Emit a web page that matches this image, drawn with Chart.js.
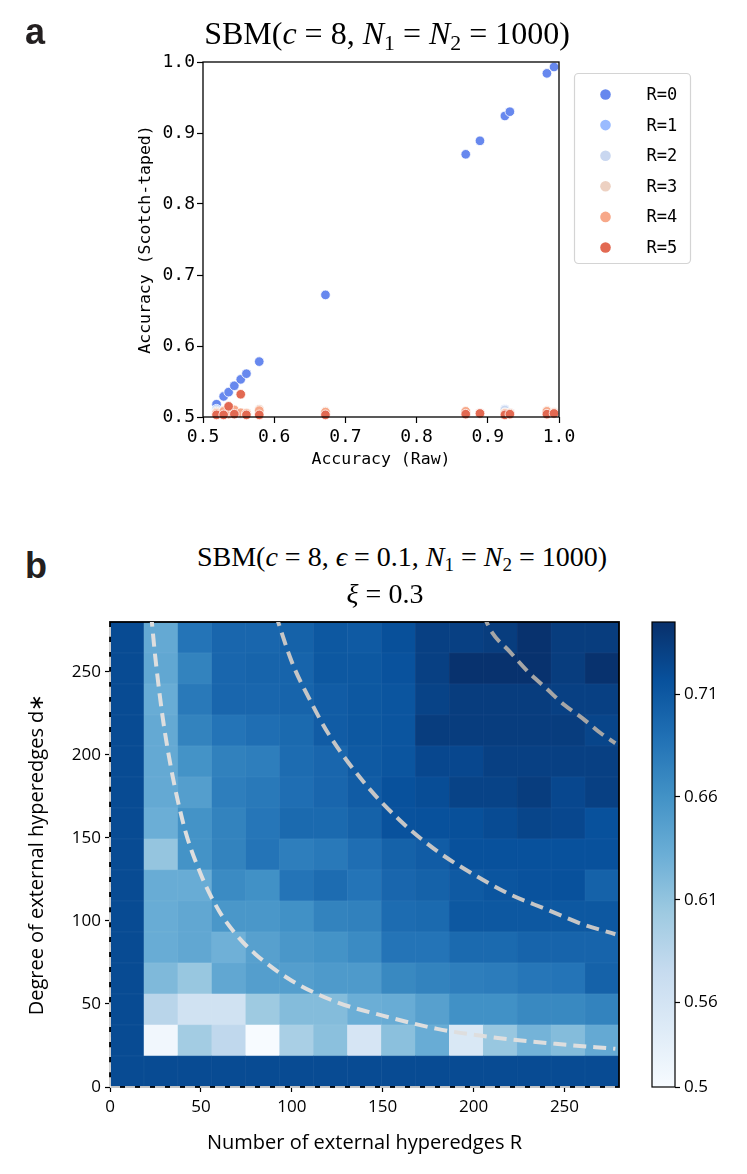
<!DOCTYPE html>
<html><head><meta charset="utf-8">
<script src="https://cdn.jsdelivr.net/npm/chart.js@4.4.1/dist/chart.umd.min.js"></script>
<style>
html,body{margin:0;padding:0;background:#fff;width:747px;height:1174px;overflow:hidden;position:relative}
canvas{position:absolute}
.lbl{position:absolute;font-family:"Liberation Sans",Arial,sans-serif;font-weight:bold;font-size:36px;line-height:40px;color:#231f20;z-index:3}
.ttl{position:absolute;font-family:"Liberation Serif","DejaVu Serif",serif;font-size:28px;line-height:32px;color:#000;white-space:nowrap;transform:translateX(-50%);z-index:3}
.ttl sub{font-size:0.68em;vertical-align:-0.28em;line-height:0}
</style></head><body>
<div class="lbl" style="left:25px;top:12px">a</div>
<div class="lbl" style="left:25px;top:546px">b</div>
<div class="ttl" style="left:387px;top:15px;font-size:32px;line-height:36px">SBM(<i>c</i> = 8, <i>N</i><sub>1</sub> = <i>N</i><sub>2</sub> = 1000)</div>
<div class="ttl" style="left:402px;top:541px">SBM(<i>c</i> = 8, <i>ϵ</i> = 0.1, <i>N</i><sub>1</sub> = <i>N</i><sub>2</sub> = 1000)</div>
<div class="ttl" style="left:385px;top:578px"><i>ξ</i> = 0.3</div>
<canvas id="c1" width="747" height="480" style="left:0;top:0"></canvas>
<canvas id="c2" width="747" height="574" style="left:0;top:600px"></canvas>
<canvas id="c3" width="117" height="574" style="left:630px;top:600px"></canvas>
<script>
// ---------------- Panel a data ----------------
const rawAccuracy = [0.519,0.529,0.536,0.544,0.553,0.561,0.579,0.672,0.869,0.889,0.924,0.931,0.983,0.993];
const tapedR0 = [0.518,0.529,0.535,0.544,0.553,0.561,0.578,0.672,0.870,0.889,0.924,0.930,0.984,0.993];
const tapedR1 = [0.511,0.506,0.505,0.507,0.504,0.505,0.509,0.506,0.505,0.504,0.511,0.506,0.507,0.506];
const tapedR2 = [0.509,0.507,0.506,0.505,0.506,0.504,0.510,0.507,0.507,0.505,0.510,0.505,0.508,0.505];
const tapedR3 = [0.507,0.509,0.505,0.506,0.505,0.506,0.511,0.508,0.508,0.506,0.506,0.506,0.509,0.507];
const tapedR4 = [0.505,0.508,0.504,0.510,0.506,0.505,0.509,0.507,0.508,0.505,0.505,0.505,0.508,0.506];
const tapedR5 = [0.503,0.503,0.515,0.504,0.532,0.503,0.503,0.503,0.504,0.505,0.503,0.504,0.504,0.505];
const seriesLabels = ['R=0','R=1','R=2','R=3','R=4','R=5'];
const seriesColors = ['#6788ee','#9abbff','#c9d7f0','#edd1c2','#f7a889','#e26952'];
const accTicksA = [0.5,0.6,0.7,0.8,0.9,1.0];

// ---------------- Panel b data ----------------
const binEdges = [0,18.67,37.33,56,74.67,93.33,112,130.67,149.33,168,186.67,205.33,224,242.67,261.33,280];
// accuracy per cell: row index = d bin (bottom to top), column = R bin (left to right)
const accRows = [
 [0.722,0.722,0.722,0.722,0.722,0.722,0.722,0.722,0.722,0.722,0.722,0.722,0.722,0.722,0.722],
 [0.722,0.526,0.600,0.580,0.519,0.596,0.614,0.557,0.614,0.634,0.553,0.607,0.627,0.618,0.637],
 [0.722,0.585,0.564,0.564,0.604,0.618,0.618,0.632,0.634,0.646,0.661,0.661,0.668,0.668,0.673],
 [0.722,0.621,0.607,0.639,0.648,0.648,0.652,0.652,0.668,0.673,0.677,0.679,0.684,0.686,0.702],
 [0.722,0.634,0.639,0.630,0.646,0.655,0.659,0.666,0.686,0.686,0.695,0.695,0.700,0.700,0.700],
 [0.722,0.634,0.639,0.655,0.655,0.661,0.673,0.675,0.693,0.695,0.711,0.711,0.711,0.711,0.711],
 [0.722,0.634,0.634,0.666,0.661,0.686,0.693,0.686,0.698,0.702,0.709,0.713,0.716,0.717,0.702],
 [0.722,0.609,0.659,0.673,0.686,0.677,0.682,0.691,0.702,0.707,0.717,0.717,0.717,0.717,0.717],
 [0.722,0.632,0.659,0.673,0.684,0.695,0.695,0.702,0.716,0.717,0.718,0.722,0.727,0.725,0.717],
 [0.722,0.637,0.648,0.677,0.682,0.691,0.698,0.707,0.717,0.720,0.729,0.729,0.734,0.725,0.731],
 [0.722,0.637,0.659,0.675,0.677,0.693,0.698,0.709,0.713,0.725,0.725,0.731,0.731,0.731,0.731],
 [0.722,0.637,0.673,0.686,0.691,0.695,0.707,0.711,0.713,0.734,0.734,0.734,0.734,0.734,0.727],
 [0.722,0.634,0.682,0.698,0.698,0.700,0.707,0.711,0.713,0.729,0.734,0.734,0.734,0.731,0.731],
 [0.722,0.639,0.673,0.698,0.700,0.700,0.711,0.711,0.716,0.731,0.743,0.743,0.743,0.734,0.743],
 [0.722,0.637,0.686,0.698,0.698,0.702,0.711,0.709,0.718,0.731,0.731,0.734,0.743,0.734,0.734]
];
// dashed guide curves, points [R, d]
const curveInner = [[22.6,285],[25,258],[30,215],[40,160],[50,128],[60,106],[70,91],[80,80],[100,64],[125,51],[150,43],[180,35],[210,30],[245,26],[278,23]];
const curveMiddle = [[91,285],[100,256],[110,233],[120,213],[140,183],[160,160],[180,142],[200,128],[220,116],[240,107],[260,98],[278,92]];
const curveOuter = [[205,285],[210,274],[220,262],[230,250],[240,240],[250,230],[260,222],[270,213],[278,207]];
const zeroLineR = [[0,0],[0,280]];
const zeroLineD = [[0,0],[280,0]];
const heatTicks = [0,50,100,150,200,250];
const cbMin = 0.519, cbMax = 0.745;
const cbTickValues = [0.519,0.56,0.61,0.66,0.71];
const cbTickLabels = ['0.5','0.56','0.61','0.66','0.71'];

// ---------------- helpers ----------------
const blueStops = [[247,251,255],[222,235,247],[198,219,239],[158,202,225],[107,174,214],[66,146,198],[33,113,181],[8,81,156],[8,48,107]];
function bluesRGB(t){
  t = Math.max(0, Math.min(1, t));
  const p = t*8, i = Math.min(7, Math.floor(p)), f = p - i;
  const a = blueStops[i], b = blueStops[i+1];
  return [0,1,2].map(k => a[k] + (b[k]-a[k])*f);
}
const rgbStr = c => 'rgb(' + c.map(Math.round).join(',') + ')';
function bluesAt(t){ return rgbStr(bluesRGB(t)); }
function bluesColor(v){ return bluesAt((v - cbMin)/(cbMax - cbMin)); }
function cellEdgeColor(v){ return rgbStr(bluesRGB((v - cbMin)/(cbMax - cbMin)).map(c => c + (255 - c)*0.07)); }

function drawFrame(chart, w){
  const {ctx, chartArea:a} = chart;
  ctx.save(); ctx.strokeStyle = '#000'; ctx.lineWidth = w;
  ctx.strokeRect(a.left, a.top, a.right - a.left, a.bottom - a.top);
  ctx.restore();
}
const framePlugin = {
  id: 'frame',
  beforeDatasetsDraw(chart){ chart.$frameDone = false; },
  beforeDatasetDraw(chart, args, opts){
    if (!chart.$frameDone && args.meta.type === 'line') { drawFrame(chart, opts.width || 1.2); chart.$frameDone = true; }
  },
  afterDatasetsDraw(chart, args, opts){ if (!chart.$frameDone) { drawFrame(chart, opts.width || 1.2); chart.$frameDone = true; } }
};
const legendPlugin = {
  id: 'boxLegend',
  afterDraw(chart){
    const {ctx, chartArea:ca} = chart;
    const x0 = ca.right + 15.5, y0 = ca.top + 11.5, w = 116, h = 190;
    ctx.save();
    ctx.beginPath(); ctx.roundRect(x0, y0, w, h, 4);
    ctx.fillStyle = 'rgba(255,255,255,0.85)'; ctx.fill();
    ctx.strokeStyle = '#d4d4d4'; ctx.lineWidth = 1.2; ctx.stroke();
    ctx.font = '17px "DejaVu Sans Mono", monospace'; ctx.textBaseline = 'middle'; ctx.textAlign = 'left';
    chart.data.datasets.forEach((ds, i) => {
      const cy = y0 + 21 + i*30.6;
      ctx.beginPath(); ctx.arc(x0 + 31, cy, 5.3, 0, Math.PI*2);
      ctx.fillStyle = ds.backgroundColor; ctx.fill();
      ctx.fillStyle = '#000'; ctx.fillText(ds.label, x0 + 72, cy + 1);
    });
    ctx.restore();
  }
};

// ---------------- Panel a chart ----------------
const tapedSeries = [tapedR0,tapedR1,tapedR2,tapedR3,tapedR4,tapedR5];
const monoTick = {family:'"DejaVu Sans Mono", monospace', size:18};
const monoTitle = {family:'"DejaVu Sans Mono", monospace', size:16.5};
new Chart(document.getElementById('c1'), {
  type: 'scatter',
  data: { datasets: seriesLabels.map((lab, i) => ({
    label: lab,
    data: rawAccuracy.map((x, j) => ({x, y: tapedSeries[i][j]})),
    backgroundColor: seriesColors[i], borderColor: '#ffffff', borderWidth: 0.8,
    pointRadius: 4.8, pointHoverRadius: 4.8, order: 5 - i, clip: 8
  }))},
  options: {
    responsive: false, animation: false, events: [],
    layout: {padding: {left: 136, top: 62, right: 188, bottom: 0}},
    plugins: {legend: {display: false}, tooltip: {enabled: false}, frame: {width: 1.3}},
    scales: {
      x: {type:'linear', min:0.5, max:1.0,
        afterBuildTicks: s => { s.ticks = accTicksA.map(v => ({value: v})); },
        ticks: {callback: v => v.toFixed(1), font: monoTick, color:'#000', padding: 4, maxRotation: 0},
        grid: {drawOnChartArea:false, tickLength:6, color:'#000', tickWidth:1.2},
        border: {display:false},
        title: {display:true, text:'Accuracy (Raw)', font: monoTitle, color:'#000', padding:{top:0,bottom:10}},
        afterFit: s => { s.height = 63; }
      },
      y: {type:'linear', min:0.5, max:1.0,
        afterBuildTicks: s => { s.ticks = accTicksA.map(v => ({value: v})); },
        ticks: {callback: v => v.toFixed(1), font: monoTick, color:'#000', padding: 2},
        grid: {drawOnChartArea:false, tickLength:6, color:'#000', tickWidth:1.2},
        border: {display:false},
        title: {display:true, text:'Accuracy (Scotch-taped)', font: monoTitle, color:'#000', padding:0},
        afterFit: s => { s.width = 67; }
      }
    }
  },
  plugins: [framePlugin, legendPlugin]
});

// ---------------- Panel b heatmap ----------------
const sansTick = {family:'"Open Sans", "Noto Sans", sans-serif', size:17};
const sansTitle = {family:'"Open Sans", "Noto Sans", sans-serif', size:20};
const heatDatasets = accRows.map((row, di) => ({
  type: 'bar', label: 'd-bin ' + di, order: 10, grouped: false,
  data: row.map((v, ri) => ({x: (binEdges[ri] + binEdges[ri+1]) / 2, y: [binEdges[di], binEdges[di+1]]})),
  backgroundColor: row.map(bluesColor),
  borderColor: row.map(cellEdgeColor), borderWidth: 0.6, borderSkipped: false, inflateAmount: 0.4,
  barPercentage: 1, categoryPercentage: 1
}));
const lineDs = (pts, color, width, dash, clip) => ({
  type: 'line', data: pts.map(([x, y]) => ({x, y})), borderColor: color, borderWidth: width,
  borderDash: dash, pointRadius: 0, fill: false, cubicInterpolationMode: 'monotone', order: 1, clip: clip,
  borderCapStyle: 'butt'
});
new Chart(document.getElementById('c2'), {
  type: 'bar',
  data: { datasets: heatDatasets.concat([
    lineDs(curveInner, '#dedede', 4, [13, 7], 0),
    lineDs(curveMiddle, '#c6c6c6', 4, [13, 7], 0),
    lineDs(curveOuter, '#a6a6a6', 4, [13, 7], 0),
    lineDs(zeroLineR, '#ffffff', 1.6, [10, 5], 4),
    lineDs(zeroLineD, '#ffffff', 1.6, [10, 5], 4)
  ])},
  options: {
    responsive: false, animation: false, events: [],
    layout: {padding: {left: 25, top: 22, right: 128, bottom: 0}},
    plugins: {legend: {display:false}, tooltip: {enabled:false}, frame: {width: 1.8}},
    scales: {
      x: {type:'linear', min:0, max:280, offset:false,
        afterBuildTicks: s => { s.ticks = heatTicks.map(v => ({value: v})); },
        ticks: {font: sansTick, color:'#000', padding: 5, maxRotation: 0},
        grid: {drawOnChartArea:false, tickLength:5, color:'#000', tickWidth:1.2, offset:false},
        border: {display:false},
        title: {display:true, text:'Number of external hyperedges R', font: sansTitle, color:'#000', padding:{top:0,bottom:19}},
        afterFit: s => { s.height = 87; }
      },
      y: {type:'linear', min:0, max:280,
        afterBuildTicks: s => { s.ticks = heatTicks.map(v => ({value: v})); },
        ticks: {font: sansTick, color:'#000', padding: 4},
        grid: {drawOnChartArea:false, tickLength:5, color:'#000', tickWidth:1.2},
        border: {display:false},
        title: {display:true, text:'Degree of external hyperedges d∗', font: sansTitle, color:'#000', padding:0},
        afterFit: s => { s.width = 85; }
      }
    }
  },
  plugins: [framePlugin]
});

// ---------------- colorbar ----------------
new Chart(document.getElementById('c3'), {
  type: 'bar',
  data: { labels: ['accuracy'], datasets: [{
    data: [[cbMin, cbMax]], borderWidth: 0, barPercentage: 1, categoryPercentage: 1,
    backgroundColor: (ctx) => {
      const ca = ctx.chart.chartArea;
      if (!ca) return bluesAt(0.5);
      const g = ctx.chart.ctx.createLinearGradient(0, ca.bottom, 0, ca.top);
      blueStops.forEach((c, i) => g.addColorStop(i / 8, 'rgb(' + c.join(',') + ')'));
      return g;
    }
  }]},
  options: {
    responsive: false, animation: false, events: [],
    layout: {padding: {left: 22, top: 22, right: 0, bottom: 87}},
    plugins: {legend: {display:false}, tooltip: {enabled:false}, frame: {width: 1.2}},
    scales: {
      x: {display: false},
      y: {position:'right', min: cbMin, max: cbMax,
        afterBuildTicks: s => { s.ticks = cbTickValues.map(v => ({value: v})); },
        ticks: {callback: (v, i) => cbTickLabels[i], font: sansTick, color:'#000', padding: 4},
        grid: {drawOnChartArea:false, tickLength:5, color:'#000', tickWidth:1.2},
        border: {display:false},
        afterFit: s => { s.width = 72; }
      }
    }
  },
  plugins: [framePlugin]
});
</script>
</body></html>
